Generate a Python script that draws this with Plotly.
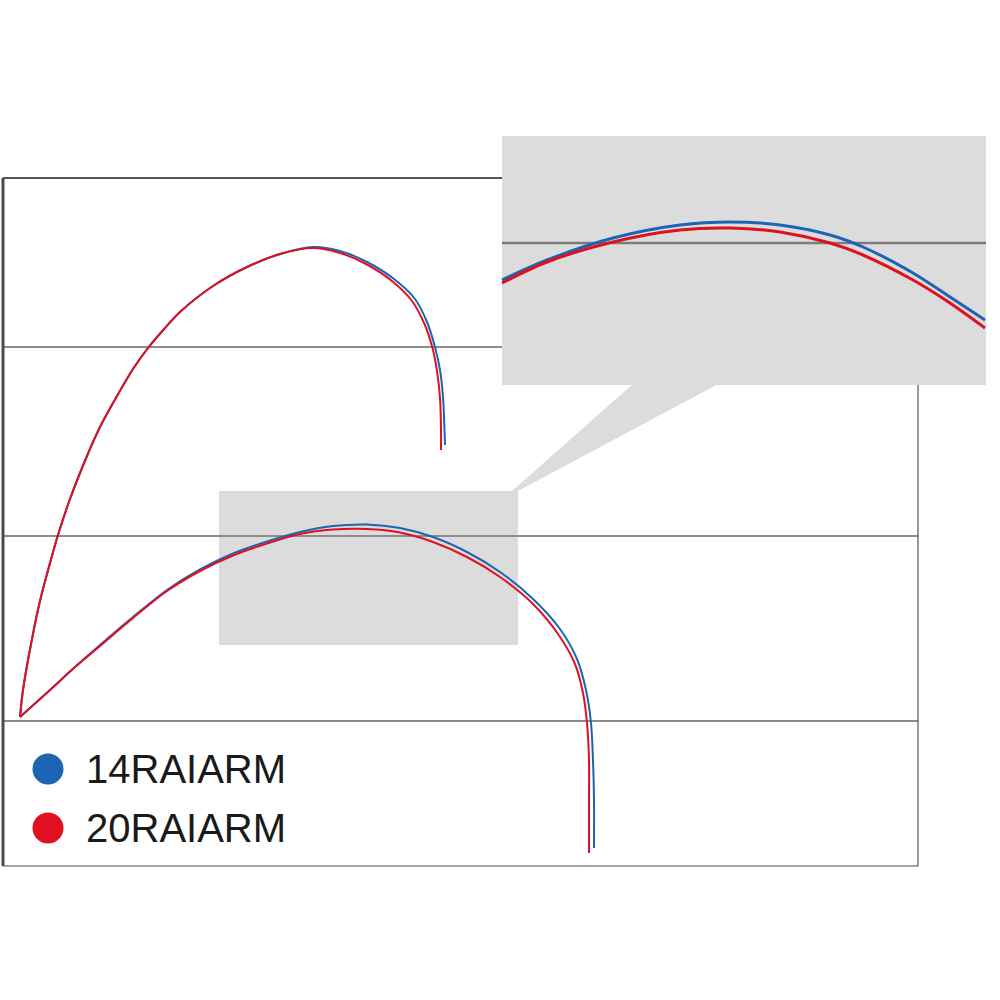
import plotly.graph_objects as go

# curve points (pixel-like units, y grows downward)
SERIES = ["14RAIARM", "20RAIARM"]
COLORS = ["#1c64b4", "#e0101e"]

# steep upper curve
UP_BLUE_X = [20, 23, 32, 40, 50, 58, 70, 87, 100, 117, 133, 148, 165, 180, 213, 247, 280, 313, 340, 367, 394, 415, 427, 435, 440, 443, 444.5, 445]
UP_BLUE_Y = [717, 690, 639, 601, 563, 535, 499, 456, 427, 396, 369, 348, 328, 312, 286, 267, 254, 247, 251, 262, 279, 299, 322, 347, 370, 397, 430, 445]
UP_RED_X = [20, 23, 32, 40, 50, 58, 70, 87, 100, 117, 133, 148, 165, 180, 213, 247, 280, 313, 340, 366, 392, 412, 424.5, 432.5, 437, 440, 441, 441]
UP_RED_Y = [717, 690, 639, 601, 563, 535, 499, 456, 427, 396, 369, 348, 328, 312, 286, 267, 254, 248, 253, 264, 281, 301, 324, 348, 371, 398, 430, 450]

# flatter lower curve
LOW_BLUE_X = [20, 50, 75, 100, 133, 167, 200, 233, 267, 300, 333, 367, 400, 433, 467, 500, 533, 560, 577, 586, 591, 593, 594, 594]
LOW_BLUE_Y = [717, 690, 667, 645, 617, 590, 569.5, 553.5, 541.5, 532, 526, 524.5, 528, 537, 552, 572, 599, 629, 659, 690, 723, 760, 800, 848]
LOW_RED_X = [20, 50, 75, 100, 133, 167, 200, 233, 267, 300, 333, 367, 400, 433, 467, 500, 533, 558, 575, 583, 587, 589, 589, 589]
LOW_RED_Y = [717, 690, 667, 646, 618, 591, 571, 555.5, 543.5, 534, 529.5, 529, 532.5, 542, 557, 577, 604, 634, 664, 693, 723, 760, 800, 853]

# magnified inset
INS_BLUE_X = [502, 547, 613, 680, 730, 780, 830, 863, 913, 947, 985]
INS_BLUE_Y = [280, 260, 238, 225, 222, 225, 235, 247, 273, 295, 320]
INS_RED_X = [502, 547, 613, 680, 730, 780, 830, 863, 913, 947, 985]
INS_RED_Y = [283, 262, 242, 230, 228, 232, 243, 255, 280, 301, 328]

GRID_Y = [347, 536, 721]

fig = go.Figure()

for xs, ys, col, w in [
    (UP_BLUE_X, UP_BLUE_Y, COLORS[0], 2),
    (UP_RED_X, UP_RED_Y, COLORS[1], 2),
    (LOW_BLUE_X, LOW_BLUE_Y, COLORS[0], 2),
    (LOW_RED_X, LOW_RED_Y, COLORS[1], 2),
    (INS_BLUE_X, INS_BLUE_Y, COLORS[0], 3),
    (INS_RED_X, INS_RED_Y, COLORS[1], 3),
]:
    fig.add_trace(go.Scatter(x=xs, y=ys, mode="lines",
                             line=dict(color=col, width=w, shape="spline", smoothing=0.9),
                             hoverinfo="skip", showlegend=False))

# legend dots + labels
fig.add_trace(go.Scatter(x=[48, 48], y=[769, 828], mode="markers",
                         marker=dict(color=COLORS, size=31),
                         hoverinfo="skip", showlegend=False))
for name, yy in zip(SERIES, [769, 828]):
    fig.add_annotation(x=84, y=yy, xref="x", yref="y", text=name, showarrow=False,
                       xanchor="left", yanchor="middle",
                       font=dict(family="Liberation Sans, Arial", size=40, color="#1a1a1a"))

shapes = []
# small highlight box
shapes.append(dict(type="rect", x0=219, x1=518, y0=491, y1=645,
                   fillcolor="#dcdcdc", line_width=0, layer="below"))
# frame + grid
for gy in GRID_Y:
    shapes.append(dict(type="line", x0=3, x1=918, y0=gy, y1=gy,
                       line=dict(color="#8c8c8c", width=2), layer="below"))
shapes.append(dict(type="line", x0=3, x1=918, y0=866, y1=866,
                   line=dict(color="#888888", width=1.5), layer="below"))
shapes.append(dict(type="line", x0=918, x1=918, y0=178, y1=866,
                   line=dict(color="#333333", width=1), layer="below"))
shapes.append(dict(type="line", x0=3, x1=502, y0=178, y1=178,
                   line=dict(color="#555555", width=2), layer="below"))
shapes.append(dict(type="line", x0=3, x1=3, y0=178, y1=866,
                   line=dict(color="#4a4a4a", width=3), layer="below"))
# callout wedge and inset
shapes.append(dict(type="path", path="M 633,384 L 718,384 L 518,491 L 512,491 Z",
                   fillcolor="#dcdcdc", line_width=0, layer="below"))
shapes.append(dict(type="rect", x0=502, x1=986, y0=136, y1=385,
                   fillcolor="#dcdcdc", line_width=0, layer="below"))
shapes.append(dict(type="line", x0=502, x1=986, y0=243, y1=243,
                   line=dict(color="#7d7d7d", width=2.5), layer="below"))

fig.update_layout(
    width=1000, height=1000,
    margin=dict(l=0, r=0, t=0, b=0),
    paper_bgcolor="white", plot_bgcolor="white",
    shapes=shapes,
    xaxis=dict(range=[0, 1000], visible=False, fixedrange=True),
    yaxis=dict(range=[1000, 0], visible=False, fixedrange=True),
)

# drop the default 8px body margin so the figure sits at the page corner
fig.write_html("out.html", config={"displayModeBar": False},
               post_script="document.body.style.margin='0';document.body.style.padding='0';")
